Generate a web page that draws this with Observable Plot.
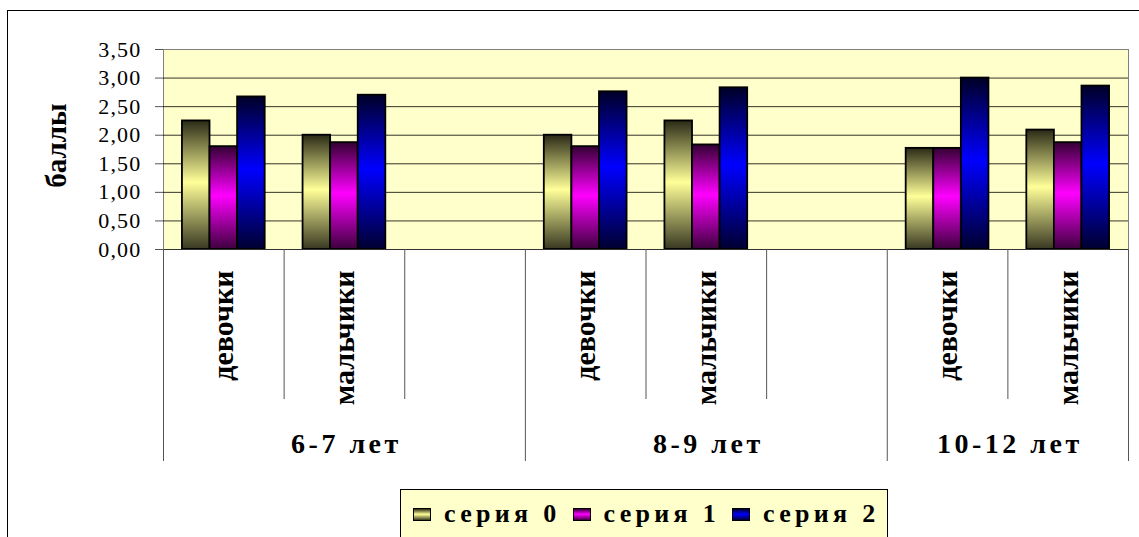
<!DOCTYPE html>
<html><head><meta charset="utf-8">
<script src="https://cdn.jsdelivr.net/npm/d3@7"></script>
<script src="https://cdn.jsdelivr.net/npm/@observablehq/plot@0.6"></script>
<style>
body{margin:0;background:#fff;overflow:hidden;}
#wrap{position:relative;width:1139px;height:537px;overflow:hidden;font-family:"Liberation Serif","Times New Roman",serif;}
#border{position:absolute;left:7px;top:10px;width:1200px;height:600px;border-left:1px solid #000;border-top:1px solid #000;box-sizing:border-box;}
#chart{position:absolute;left:0;top:0;}
#legend{position:absolute;left:400px;top:489px;width:488px;box-sizing:border-box;background:#ffffcc;border:1px solid #000;display:flex;align-items:center;height:60px;padding:0 0 10px 12px;font-weight:bold;font-size:26px;letter-spacing:4.3px;color:#000;line-height:26px;white-space:nowrap;}
.item{display:flex;align-items:center;}
.item span{margin-right:12px;}
.sw{width:18px;height:13px;border:1.5px solid #000;box-sizing:border-box;margin-right:13px;}
</style></head>
<body><div id="wrap"><div id="border"></div><div id="chart"></div><div id="legend"></div></div>
<script>
const ages = ["6-7 лет", "8-9 лет", "10-12 лет"];
const sexes = ["девочки", "мальчики"];
const slotsPerAge = [3, 3, 2];
const seriesNames = ["серия 0", "серия 1", "серия 2"];
const seria0 = [2.25, 2.00, 2.00, 2.25, 1.77, 2.09];
const seria1 = [1.80, 1.87, 1.80, 1.83, 1.77, 1.87];
const seria2 = [2.67, 2.70, 2.76, 2.83, 3.00, 2.86];
const yTicks = [0, 0.5, 1, 1.5, 2, 2.5, 3, 3.5];
const yLabel = "баллы";

const gradients = [
  ["#2a2a16", "#ffff99", "#383822"],
  ["#330033", "#ff00ff", "#3d003d"],
  ["#000026", "#0000ff", "#000030"]
];

const series = [seria0, seria1, seria2];
const starts = slotsPerAge.map((n, i) => d3.sum(slotsPerAge.slice(0, i)));
const totalSlots = d3.sum(slotsPerAge);
const pad = 0.157, barW = (1 - 2 * pad) / seriesNames.length;

const rows = [];
const cats = [];
ages.forEach((age, a) => sexes.forEach((sex, s) => {
  const slot = starts[a] + s;
  cats.push({slot, label: sex});
  series.forEach((vals, k) => rows.push({slot, k, name: seriesNames[k], age, sex, v: vals[a * sexes.length + s]}));
}));
const groupBounds = [...starts, totalSlots];
const innerBounds = d3.range(totalSlots + 1).filter(b => !groupBounds.includes(b));
const groupLabels = ages.map((age, a) => ({age, x: starts[a] + slotsPerAge[a] / 2}));

const serif = "Liberation Serif";
const fmt = d => d.toFixed(2).replace(".", ",");

const chart = Plot.plot({
  width: 1139, height: 537,
  marginLeft: 163, marginRight: 11, marginTop: 49, marginBottom: 288,
  style: {fontFamily: "'Liberation Serif', serif", background: "transparent"},
  x: {type: "linear", domain: [0, totalSlots], axis: null},
  y: {domain: [0, 3.5], axis: null},
  marks: [
    Plot.frame({fill: "#ffffcc", stroke: "#808080"}),
    Plot.ruleY(yTicks.filter(t => t > 0 && t < 3.5), {stroke: "#000", strokeOpacity: 0.8}),
    ...seriesNames.map((n, k) => Plot.rectY(rows.filter(r => r.k === k), {
      x1: r => r.slot + pad + r.k * barW,
      x2: r => r.slot + pad + (r.k + 1) * barW,
      y1: 0, y2: "v",
      fill: `url(#grad${k})`, stroke: "#000", strokeWidth: 1.8
    })),
    Plot.ruleY([0], {stroke: "#333"}),
    Plot.ruleX(innerBounds, {x: d => d, y: 0, insetBottom: -150, stroke: "#555"}),
    Plot.ruleX(groupBounds, {x: d => d, y: 0, insetBottom: -212, stroke: "#555"}),
    Plot.axisY(yTicks, {tickSize: 8, tickPadding: 14, tickFormat: fmt, fontSize: 22, fontFamily: serif, label: null, stroke: "#555", color: "#000"}),
    Plot.text(cats, {x: d => d.slot + 0.5, y: 0, text: "label", rotate: -90, textAnchor: "end", dy: 21, fontSize: 30, fontWeight: "bold", fontFamily: serif, fill: "#000"}),
    Plot.text(groupLabels, {x: "x", y: 0, text: "age", dy: 195, dx: 2, fontSize: 28, fontWeight: "bold", fontFamily: serif, fill: "#000"}),
    Plot.text([yLabel], {frameAnchor: "left", textAnchor: "middle", rotate: -90, dx: -107, dy: -4, fontSize: 29, fontWeight: "bold", fontFamily: serif, fill: "#000"})
  ]
});

const defs = d3.select(chart).insert("defs", ":first-child");
gradients.forEach((cols, k) => {
  const g = defs.append("linearGradient").attr("id", `grad${k}`).attr("x1", 0).attr("y1", 0).attr("x2", 0).attr("y2", 1);
  [0, 0.48, 1].forEach((o, i) => g.append("stop").attr("offset", o).attr("stop-color", cols[i]));
});
d3.select(chart).selectAll('g[aria-label="y-axis tick label"]').style("letter-spacing", "1.2px");
const textGroups = d3.select(chart).selectAll('g[aria-label="text"]').nodes();
const spacing = ["0px", "3.5px", "0px"];
textGroups.forEach((g, i) => d3.select(g).style("letter-spacing", spacing[i]));
document.getElementById("chart").appendChild(chart);

const legend = d3.select("#legend");
seriesNames.forEach((n, k) => {
  const it = legend.append("div").attr("class", "item");
  it.append("div").attr("class", "sw").style("background", `linear-gradient(${gradients[k][0]}, ${gradients[k][1]} 48%, ${gradients[k][2]})`);
  it.append("span").text(n);
});
</script></body></html>
